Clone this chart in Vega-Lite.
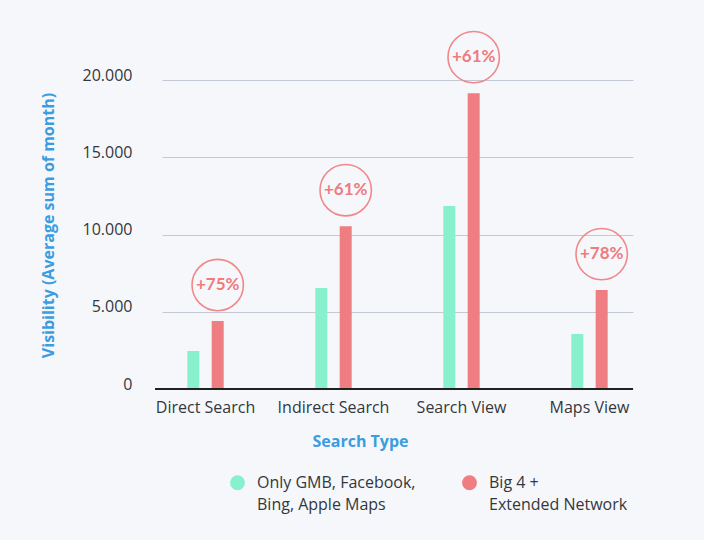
{
  "$schema": "https://vega.github.io/schema/vega-lite/v6.json",
  "width": 478,
  "height": 309,
  "autosize": "none",
  "padding": {"left": 155, "top": 80, "right": 71, "bottom": 151},
  "background": "#f6f7fb",
  "config": {
    "view": {"stroke": null},
    "font": "Open Sans",
    "style": {"guide-label": {"lineHeight": 22}}
  },
  "data": {
    "values": [
      {"category": "Direct Search", "series": "Only GMB, Facebook,|Bing, Apple Maps", "value": 2460, "pct": ""},
      {"category": "Direct Search", "series": "Big 4 +|Extended Network", "value": 4400, "pct": "+75%"},
      {"category": "Indirect Search", "series": "Only GMB, Facebook,|Bing, Apple Maps", "value": 6530, "pct": ""},
      {"category": "Indirect Search", "series": "Big 4 +|Extended Network", "value": 10540, "pct": "+61%"},
      {"category": "Search View", "series": "Only GMB, Facebook,|Bing, Apple Maps", "value": 11840, "pct": ""},
      {"category": "Search View", "series": "Big 4 +|Extended Network", "value": 19150, "pct": "+61%"},
      {"category": "Maps View", "series": "Only GMB, Facebook,|Bing, Apple Maps", "value": 3560, "pct": ""},
      {"category": "Maps View", "series": "Big 4 +|Extended Network", "value": 6400, "pct": "+78%"}
    ]
  },
  "encoding": {
    "x": {
      "field": "category",
      "type": "nominal",
      "sort": ["Direct Search", "Indirect Search", "Search View", "Maps View"],
      "scale": {"range": [7, 478], "paddingInner": 0.32, "paddingOuter": 0},
      "axis": {
        "title": "Search Type",
        "titleColor": "#3b9de1",
        "titleFontSize": 16,
        "titleFontWeight": "bold",
        "titleX": 205,
        "titleY": 52,
        "titleBaseline": "middle",
        "labelAngle": 0,
        "labelFontSize": 16,
        "labelColor": "#333840",
        "labelPadding": 10,
        "ticks": false,
        "domain": false,
        "grid": false
      }
    },
    "xOffset": {
      "field": "series",
      "type": "nominal",
      "sort": ["Only GMB, Facebook,|Bing, Apple Maps", "Big 4 +|Extended Network"],
      "scale": {"paddingInner": 0.43, "paddingOuter": 1.29}
    },
    "y": {
      "field": "value",
      "type": "quantitative",
      "scale": {"domain": [0, 20000], "nice": false},
      "axis": {
        "title": "Visibility (Average sum of month)",
        "titleColor": "#3b9de1",
        "titleFontSize": 16,
        "titleFontWeight": "bold",
        "titleX": -107,
        "titleY": 145,
        "titleAngle": -90,
        "titleAlign": "center",
        "titleBaseline": "middle",
        "values": [0, 5000, 10000, 15000, 20000],
        "labelExpr": "replace(format(datum.value, ','), ',', '.')",
        "labelFontSize": 16,
        "labelColor": "#333840",
        "labelPadding": 23,
        "labelOffset": -5,
        "ticks": false,
        "domain": false,
        "grid": true,
        "gridColor": "#c3c9d5",
        "gridWidth": 1.2
      }
    }
  },
  "layer": [
    {
      "mark": {"type": "bar", "width": 12},
      "encoding": {
        "color": {
          "field": "series",
          "type": "nominal",
          "scale": {
            "domain": ["Only GMB, Facebook,|Bing, Apple Maps", "Big 4 +|Extended Network"],
            "range": ["#88f0cd", "#ee7e81"]
          },
          "legend": {
            "title": null,
            "orient": "none",
            "legendX": 74,
            "legendY": 394,
            "direction": "horizontal",
            "columns": 2,
            "columnPadding": 45,
            "symbolType": "circle",
            "symbolSize": 220,
            "symbolOpacity": 1,
            "labelExpr": "split(datum.label, '|')",
            "labelFontSize": 16,
            "labelColor": "#333840",
            "labelOffset": 11,
            "labelLimit": 300
          }
        }
      }
    },
    {
      "transform": [{"filter": "datum.pct != ''"}],
      "mark": {"type": "point", "shape": "circle", "size": 2640, "filled": false, "stroke": "#f0888a", "strokeWidth": 1.6, "opacity": 1, "yOffset": -36},
      "encoding": {}
    },
    {
      "transform": [{"filter": "datum.pct != ''"}],
      "mark": {"type": "text", "font": "Lato", "fontWeight": "bold", "fontSize": 17, "color": "#ee7b7e", "yOffset": -36, "baseline": "middle"},
      "encoding": {"text": {"field": "pct"}}
    },
    {
      "mark": {"type": "rule", "color": "#222222", "strokeWidth": 1.5},
      "encoding": {"y": {"datum": 0}, "x": null, "xOffset": null}
    }
  ]
}
